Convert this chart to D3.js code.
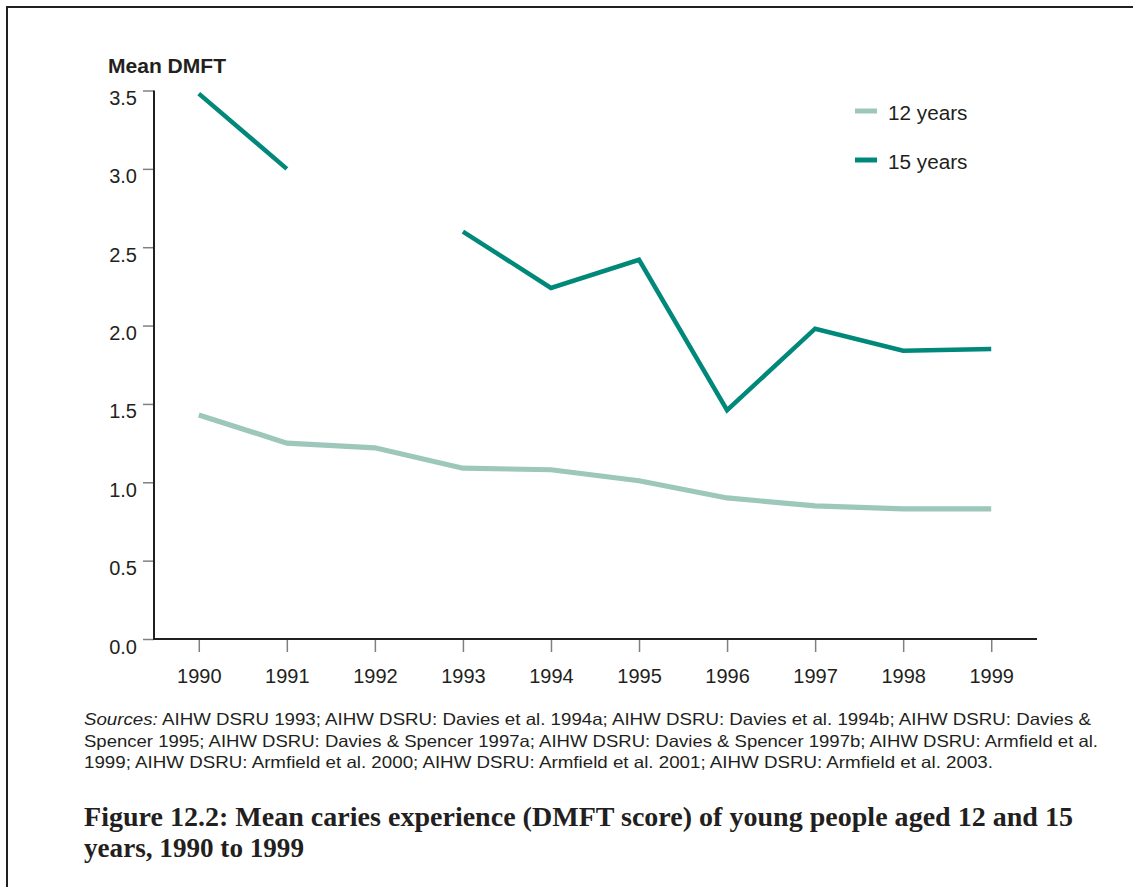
<!DOCTYPE html>
<html>
<head>
<meta charset="utf-8">
<script src="https://cdn.jsdelivr.net/npm/d3@7"></script>
<style>
  html, body { margin: 0; padding: 0; background: #fff; }
  svg { display: block; }
</style>
</head>
<body>
<script>
const years = [1990, 1991, 1992, 1993, 1994, 1995, 1996, 1997, 1998, 1999];
const age12 = [1.43, 1.25, 1.22, 1.09, 1.08, 1.01, 0.90, 0.85, 0.83, 0.83];
const age15 = [3.48, 3.00, null, 2.60, 2.24, 2.42, 1.46, 1.98, 1.84, 1.85];
const yTicks = [0, 0.5, 1.0, 1.5, 2.0, 2.5, 3.0, 3.5];
const seriesNames = ["12 years", "15 years"];
const seriesColors = ["#9dc7bb", "#00897a"];
const yTitle = "Mean DMFT";
const sourceLines = [
  ["Sources:", " AIHW DSRU 1993; AIHW DSRU: Davies et al. 1994a; AIHW DSRU: Davies et al. 1994b; AIHW DSRU: Davies &"],
  ["", "Spencer 1995; AIHW DSRU: Davies & Spencer 1997a; AIHW DSRU: Davies & Spencer 1997b; AIHW DSRU: Armfield et al."],
  ["", "1999; AIHW DSRU: Armfield et al. 2000; AIHW DSRU: Armfield et al. 2001; AIHW DSRU: Armfield et al. 2003."]
];
const titleLines = [
  "Figure 12.2: Mean caries experience (DMFT score) of young people aged 12 and 15",
  "years, 1990 to 1999"
];

const W = 1133, H = 887;
const textColor = "#231f20";
const svg = d3.select("body").append("svg").attr("width", W).attr("height", H);

// frame (top and left)
svg.append("path")
  .attr("d", `M7,${H} L7,7 L${W},7`)
  .attr("fill", "none").attr("stroke", "#231f20").attr("stroke-width", 2);

const x = d3.scalePoint().domain(years).range([153, 1037]).padding(0.52);
const y = d3.scaleLinear().domain([0, 3.5]).range([639, 90.5]);

// Y axis
const yAxis = svg.append("g").attr("transform", "translate(154,0)")
  .call(d3.axisLeft(y).tickValues(yTicks).tickFormat(d3.format(".1f")).tickSize(11).tickPadding(6));
yAxis.select(".domain").remove();
yAxis.selectAll(".tick line").attr("stroke", "#808080").attr("stroke-width", 1.5);
yAxis.selectAll(".tick text")
  .attr("fill", textColor).attr("font-family", "Liberation Sans, Arial, sans-serif")
  .attr("font-size", 20).attr("dy", null).attr("y", 14);

// X axis
const xAxis = svg.append("g").attr("transform", "translate(0,639)")
  .call(d3.axisBottom(x).tickSize(13).tickSizeOuter(0));
xAxis.select(".domain").remove();
xAxis.selectAll(".tick line").attr("stroke", "#808080").attr("stroke-width", 1.5);
xAxis.selectAll(".tick text")
  .attr("fill", textColor).attr("font-family", "Liberation Sans, Arial, sans-serif")
  .attr("font-size", 20).attr("dy", null).attr("y", 44);

// axis lines
svg.append("line").attr("x1", 154).attr("x2", 154).attr("y1", y(3.5)).attr("y2", y(0) + 1)
  .attr("stroke", "#231f20").attr("stroke-width", 2);
svg.append("line").attr("x1", 153).attr("x2", 1037).attr("y1", y(0)).attr("y2", y(0))
  .attr("stroke", "#231f20").attr("stroke-width", 2.2);

// y title
svg.append("text").attr("x", 108).attr("y", 73)
  .attr("font-family", "Liberation Sans, Arial, sans-serif").attr("font-weight", "bold")
  .attr("font-size", 20).attr("fill", textColor)
  .attr("textLength", 118).attr("lengthAdjust", "spacingAndGlyphs")
  .text(yTitle);

// lines
const line = d3.line()
  .defined(d => d.v != null)
  .x(d => x(d.year)).y(d => y(d.v));
[age12, age15].forEach((vals, i) => {
  const data = years.map((yr, j) => ({ year: yr, v: vals[j] }));
  svg.append("path").datum(data)
    .attr("d", line)
    .attr("fill", "none")
    .attr("stroke", seriesColors[i])
    .attr("stroke-width", i === 0 ? 5.2 : 4.5)
    .attr("stroke-linejoin", "miter")
    .attr("stroke-linecap", "butt");
});

// legend
const legendY = [111, 160];
seriesNames.forEach((name, i) => {
  svg.append("line").attr("x1", 855).attr("x2", 877)
    .attr("y1", legendY[i]).attr("y2", legendY[i])
    .attr("stroke", seriesColors[i]).attr("stroke-width", 5);
  svg.append("text").attr("x", 888).attr("y", legendY[i] + 8.5)
    .attr("font-family", "Liberation Sans, Arial, sans-serif")
    .attr("font-size", 20.5).attr("fill", textColor)
    .attr("textLength", 79.5).attr("lengthAdjust", "spacingAndGlyphs")
    .text(name);
});

// sources
const srcBase = [725, 746.5, 767.5];
const srcEnds = [1091, 1098, 993];
sourceLines.forEach((parts, i) => {
  const t = svg.append("text").attr("x", 84).attr("y", srcBase[i])
    .attr("font-family", "Liberation Sans, Arial, sans-serif")
    .attr("font-size", 16.5).attr("fill", textColor)
    .attr("textLength", srcEnds[i] - 84).attr("lengthAdjust", "spacingAndGlyphs");
  if (parts[0]) t.append("tspan").attr("font-style", "italic").text(parts[0]);
  t.append("tspan").text(parts[1]);
});

// title
const titleBase = [826, 857];
const titleEnds = [1073, 304];
titleLines.forEach((s, i) => {
  svg.append("text").attr("x", 84).attr("y", titleBase[i])
    .attr("font-family", "Liberation Serif, 'Times New Roman', serif")
    .attr("font-weight", "bold").attr("font-size", 26.5).attr("fill", textColor)
    .attr("textLength", titleEnds[i] - 84).attr("lengthAdjust", "spacingAndGlyphs")
    .text(s);
});
</script>
</body>
</html>
